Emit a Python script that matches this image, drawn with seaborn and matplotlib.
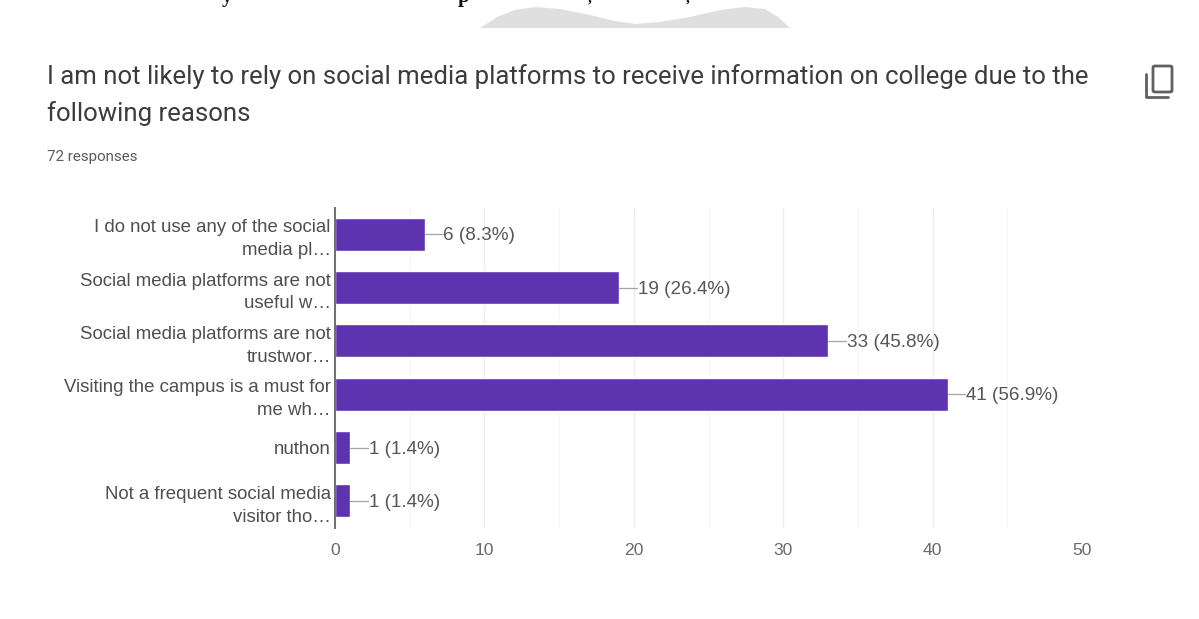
import matplotlib
matplotlib.use("Agg")
import matplotlib.pyplot as plt
from matplotlib.lines import Line2D
from matplotlib.patches import FancyBboxPatch, Polygon
import pandas as pd
import seaborn as sns

categories = [
    "I do not use any of the social\nmedia pl…",
    "Social media platforms are not\nuseful w…",
    "Social media platforms are not\ntrustwor…",
    "Visiting the campus is a must for\nme wh…",
    "nuthon",
    "Not a frequent social media\nvisitor tho…",
]
counts = [6, 19, 33, 41, 1, 1]
percents = [8.3, 26.4, 45.8, 56.9, 1.4, 1.4]
x_ticks = [0, 10, 20, 30, 40, 50]
minor_ticks = [5, 15, 25, 35, 45]
heading = [
    "I am not likely to rely on social media platforms to receive information on college due to the",
    "following reasons",
]
responses = "72 responses"

W, H = 1199, 619
sns.set_theme(style="white")
plt.rcParams["font.family"] = ["Liberation Sans", "DejaVu Sans"]


def fx(px):
    return px / W


def fy(px):
    return 1 - px / H


fig = plt.figure(figsize=(W / 100, H / 100), dpi=100, facecolor="white")
ax = fig.add_axes([fx(335), fy(527.5), fx(1082 - 335), (527.5 - 207.5) / H])

df = pd.DataFrame({"reason": categories, "count": counts})
sns.barplot(data=df, y="reason", x="count", color="#5e33b0", saturation=1,
            width=0.62, ax=ax, zorder=3)

ax.set_xlim(0, 50)
ax.set_ylim(5.5, -0.5)
ax.set_xlabel("")
ax.set_ylabel("")
ax.set_xticks(x_ticks)
ax.set_xticks(minor_ticks, minor=True)
ax.grid(axis="x", which="major", color="#ececec", lw=1.0, zorder=0)
ax.grid(axis="x", which="minor", color="#f6f6f6", lw=1.0, zorder=0)
ax.grid(axis="y", visible=False)
ax.tick_params(axis="both", which="both", length=0)
ax.tick_params(axis="x", labelsize=12.6, labelcolor="#6a6a6a", pad=11)
ax.tick_params(axis="y", labelsize=13.4, labelcolor="#4f4f4f", pad=3)
for lab in ax.get_yticklabels():
    lab.set_linespacing(1.45)
for side in ["top", "right", "bottom"]:
    ax.spines[side].set_visible(False)
ax.spines["left"].set_color("#6e6e6e")
ax.spines["left"].set_linewidth(1.4)
ax.spines["left"].set_zorder(5)

# Value annotations with a short leader line from each bar
for i, (c, p) in enumerate(zip(counts, percents)):
    ax.plot([c, c + 1.2], [i, i], color="#a5a5a5", lw=0.9, zorder=4)
    ax.text(c + 1.25, i + 0.03, f"{c} ({p}%)", va="center", ha="left",
            fontsize=13.6, color="#565656", zorder=4)

# Heading block
for text, y in zip(heading, [77, 114]):
    fig.text(fx(47), fy(y), text, fontsize=18.5, color="#3c3c3c", va="center",
             family=["Roboto", "DejaVu Sans"])
fig.text(fx(47), fy(157), responses, fontsize=10.9, color="#5a5a5a", va="center",
         family=["Roboto", "DejaVu Sans"])

# Copy icon at the right of the heading
fig.add_artist(FancyBboxPatch((fx(1153), fy(92)), (1172 - 1153) / W, (92 - 66) / H,
                              boxstyle="round,pad=0,rounding_size=0.002",
                              transform=fig.transFigure, fill=False,
                              edgecolor="#606060", lw=2.0))
fig.add_artist(Line2D([fx(1146), fx(1146), fx(1168)], [fy(74), fy(97), fy(97)],
                      transform=fig.transFigure, color="#606060", lw=2.0))

# Grey mound at the top edge of the page
mound_x = [480, 497, 515, 535, 560, 590, 615, 635, 660, 690, 720, 745, 765, 778, 790]
mound_y = [28, 17, 10, 7, 9, 15, 21, 24, 22, 17, 10, 7, 9, 17, 28]
fig.add_artist(Polygon([(fx(a), fy(b)) for a, b in zip(mound_x, mound_y)], closed=True,
                       transform=fig.transFigure, facecolor="#dfdfdf", edgecolor="none"))

# Lower edge of a line of page text that runs off the top
for glyph, px, size in [("y", 222, 15), ("p", 458, 15), (",", 588, 11), (",", 686, 11)]:
    fig.text(fx(px), fy(2), glyph, fontsize=size, color="#111111", va="baseline",
             fontweight="bold", family=["Liberation Serif", "DejaVu Serif"])

fig.savefig("out.png", dpi=100)
